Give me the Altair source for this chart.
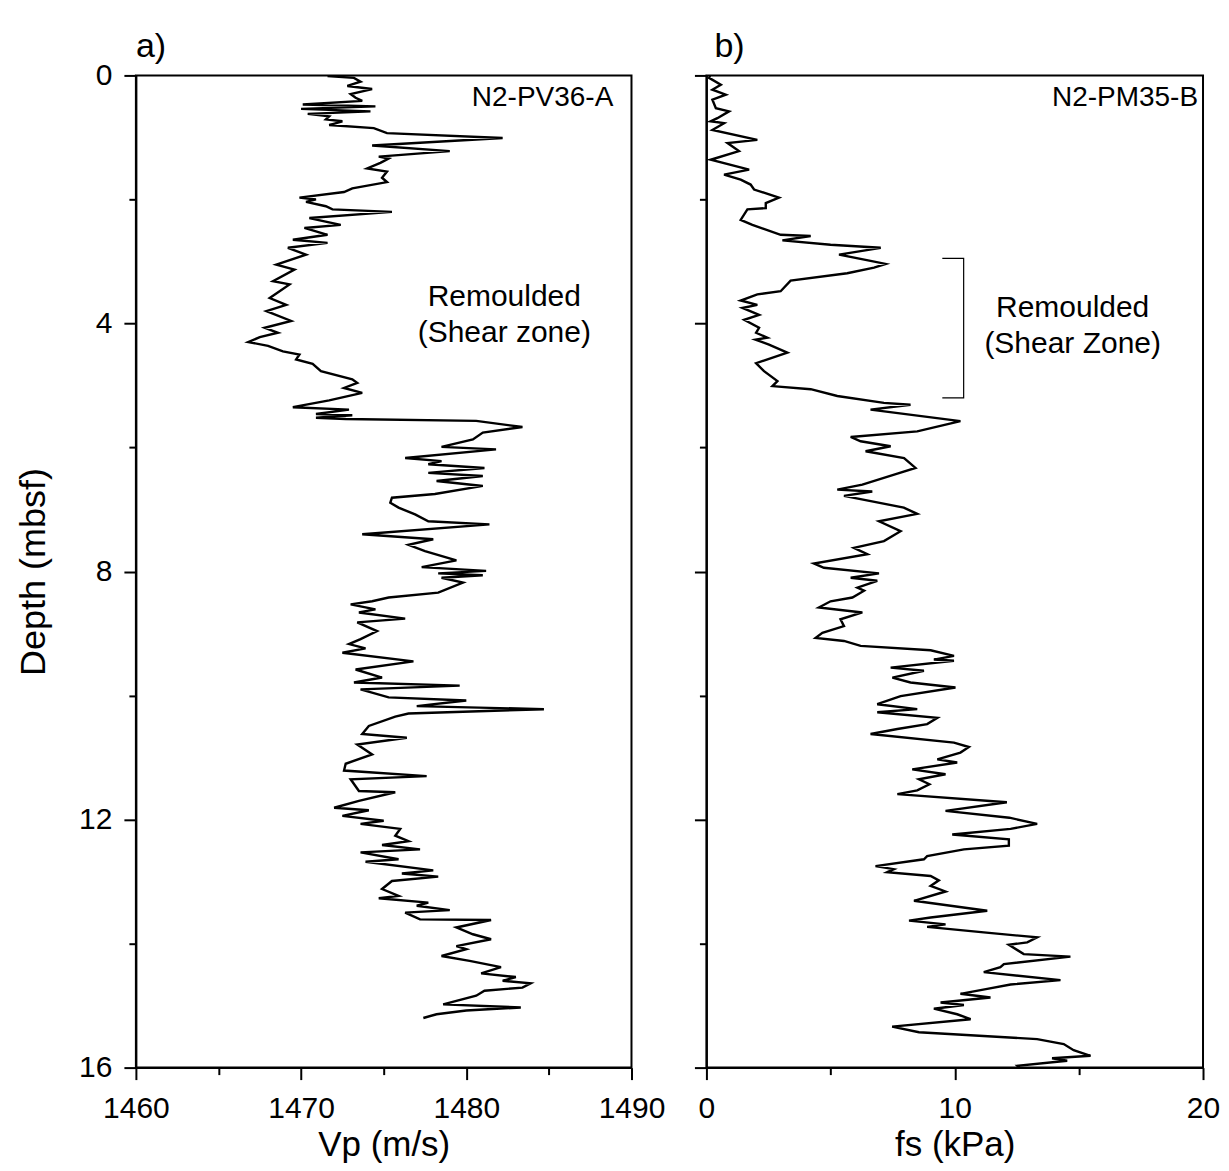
import altair as alt
import pandas as pd

FONT = "Liberation Sans"

# Panel a: Vp (m/s) vs depth (mbsf), core N2-PV36-A
depth_a = [0.01, 0.04, 0.10, 0.17, 0.22, 0.30, 0.36, 0.41, 0.47, 0.50, 0.54, 0.58, 0.62, 0.66, 0.71, 0.74,
           0.80, 0.85, 0.93, 1.01, 1.13, 1.22, 1.31, 1.34, 1.41, 1.50, 1.55, 1.65, 1.72, 1.82, 1.88, 1.97,
           2.00, 2.04, 2.11, 2.16, 2.20, 2.30, 2.41, 2.46, 2.57, 2.65, 2.70, 2.78, 2.89, 3.05, 3.13, 3.32,
           3.37, 3.59, 3.70, 3.80, 3.96, 4.07, 4.15, 4.22, 4.30, 4.36, 4.45, 4.50, 4.58, 4.65, 4.77, 4.90,
           4.96, 5.04, 5.12, 5.24, 5.35, 5.39, 5.46, 5.48, 5.52, 5.54, 5.57, 5.67, 5.76, 5.87, 5.99, 6.03,
           6.17, 6.22, 6.27, 6.33, 6.41, 6.46, 6.54, 6.62, 6.75, 6.81, 6.89, 6.97, 7.08, 7.19, 7.24, 7.40,
           7.48, 7.57, 7.67, 7.82, 7.93, 7.99, 8.03, 8.06, 8.10, 8.18, 8.34, 8.42, 8.48, 8.53, 8.61, 8.66,
           8.76, 8.82, 8.96, 9.09, 9.17, 9.24, 9.31, 9.45, 9.58, 9.71, 9.79, 9.84, 9.90, 10.03, 10.08, 10.17,
           10.22, 10.29, 10.34, 10.49, 10.62, 10.68, 10.79, 10.95, 11.10, 11.21, 11.30, 11.35, 11.54, 11.56,
           11.70, 11.81, 11.85, 11.94, 12.02, 12.07, 12.15, 12.26, 12.35, 12.41, 12.48, 12.53, 12.64, 12.68,
           12.82, 12.87, 12.92, 12.99, 13.12, 13.23, 13.27, 13.34, 13.39, 13.46, 13.50, 13.61, 13.62, 13.74,
           13.85, 13.93, 14.04, 14.09, 14.20, 14.28, 14.38, 14.48, 14.54, 14.60, 14.64, 14.71, 14.76, 14.84,
           14.98, 15.03, 15.08, 15.14, 15.20]
vp_a = [1471.6, 1473.2, 1473.6, 1472.8, 1474.3, 1473.0, 1473.3, 1473.7, 1470.1, 1474.5, 1470.0, 1474.2,
        1470.4, 1471.7, 1471.5, 1472.5, 1471.7, 1474.4, 1475.2, 1482.2, 1474.3, 1479.0, 1474.7, 1475.3,
        1474.8, 1474.0, 1475.2, 1474.9, 1475.2, 1473.1, 1472.6, 1469.9, 1470.9, 1470.3, 1471.5, 1471.9,
        1475.5, 1470.5, 1472.4, 1470.2, 1471.6, 1469.5, 1471.6, 1469.2, 1470.3, 1468.5, 1469.6, 1468.3,
        1469.3, 1468.1, 1469.1, 1467.9, 1469.4, 1467.8, 1468.6, 1467.5, 1466.8, 1468.0, 1468.9, 1469.9,
        1469.7, 1470.7, 1471.2, 1473.1, 1473.4, 1472.6, 1473.7, 1471.7, 1469.5, 1472.9, 1470.9, 1473.1,
        1470.9, 1472.7, 1480.6, 1483.4, 1481.0, 1480.4, 1478.5, 1481.8, 1476.3, 1478.5, 1477.7, 1481.1,
        1477.7, 1481.0, 1478.2, 1481.0, 1478.1, 1475.5, 1475.4, 1475.9, 1476.9, 1477.7, 1481.4, 1473.7,
        1478.0, 1476.5, 1477.5, 1479.4, 1477.3, 1481.2, 1478.3, 1481.0, 1478.5, 1479.8, 1478.3, 1475.3,
        1474.3, 1473.0, 1474.5, 1473.5, 1476.3, 1473.4, 1474.6, 1473.6, 1472.9, 1473.9, 1472.5, 1476.8,
        1473.3, 1474.9, 1473.2, 1479.6, 1473.6, 1475.3, 1480.0, 1477.0, 1484.7, 1476.5, 1475.7, 1474.1,
        1473.7, 1476.4, 1473.4, 1474.3, 1472.7, 1472.6, 1477.6, 1473.0, 1473.5, 1475.7, 1473.5, 1472.0,
        1474.1, 1472.5, 1475.0, 1473.6, 1476.0, 1475.7, 1476.5, 1474.9, 1477.2, 1473.6, 1475.9, 1473.9,
        1478.0, 1476.1, 1478.3, 1475.5, 1474.9, 1475.9, 1474.7, 1477.7, 1477.0, 1479.0, 1476.3, 1477.2,
        1481.5, 1479.4, 1480.4, 1481.5, 1479.4, 1480.0, 1478.5, 1480.2, 1482.1, 1480.9, 1483.0, 1482.2,
        1483.9, 1483.4, 1481.1, 1480.6, 1478.6, 1483.3, 1480.0, 1478.2, 1477.4]

# Panel b: fs (kPa) vs depth (mbsf), core N2-PM35-B
depth_b = [0.00, 0.04, 0.15, 0.23, 0.31, 0.39, 0.53, 0.58, 0.69, 0.74, 0.77, 0.88, 1.04, 1.09, 1.22, 1.36,
           1.52, 1.60, 1.68, 1.76, 1.84, 1.97, 2.06, 2.14, 2.16, 2.33, 2.41, 2.57, 2.59, 2.66, 2.73, 2.78,
           2.89, 2.99, 3.04, 3.10, 3.19, 3.31, 3.48, 3.53, 3.63, 3.70, 3.75, 3.86, 3.94, 4.07, 4.15, 4.23,
           4.26, 4.34, 4.47, 4.64, 4.77, 4.93, 5.01, 5.06, 5.17, 5.28, 5.31, 5.39, 5.575, 5.74, 5.83, 5.90,
           5.98, 6.06, 6.17, 6.33, 6.42, 6.60, 6.68, 6.71, 6.78, 6.97, 7.07, 7.19, 7.35, 7.51, 7.62, 7.72,
           7.87, 7.94, 8.03, 8.10, 8.15, 8.26, 8.31, 8.42, 8.48, 8.58, 8.66, 8.77, 8.88, 8.99, 9.07, 9.12,
           9.20, 9.27, 9.36, 9.42, 9.44, 9.55, 9.60, 9.71, 9.79, 9.87, 10.01, 10.14, 10.22, 10.27, 10.36,
           10.46, 10.54, 10.62, 10.76, 10.83, 10.92, 11.03, 11.08, 11.19, 11.27, 11.35, 11.43, 11.53, 11.59,
           11.72, 11.86, 11.97, 12.07, 12.15, 12.24, 12.32, 12.42, 12.48, 12.59, 12.64, 12.75, 12.80, 12.85,
           12.91, 12.98, 13.07, 13.16, 13.31, 13.47, 13.58, 13.63, 13.69, 13.73, 13.82, 13.90, 13.98, 14.02,
           14.17, 14.21, 14.33, 14.38, 14.46, 14.59, 14.66, 14.73, 14.81, 14.87, 14.95, 14.99, 15.05, 15.14,
           15.22, 15.34, 15.43, 15.54, 15.62, 15.72, 15.81, 15.85, 15.89, 15.97, 16.00]
fs_b = [0.15, 0.11, 0.58, 0.24, 0.78, 0.24, 0.38, 0.91, 0.44, 0.17, 0.71, 0.24, 2.05, 0.85, 1.31, 0.17,
        1.72, 0.71, 1.38, 1.78, 1.92, 2.92, 2.39, 2.39, 1.65, 1.38, 1.85, 2.99, 4.20, 3.06, 5.00, 7.02,
        5.34, 6.61, 7.22, 6.75, 5.67, 3.39, 2.99, 2.05, 1.38, 2.05, 1.45, 2.12, 1.52, 2.12, 2.00, 2.45,
        1.98, 2.52, 3.26, 2.00, 2.32, 2.86, 2.66, 4.20, 5.27, 7.15, 8.22, 6.61, 10.23, 8.49, 5.81, 6.21,
        7.42, 6.41, 7.96, 8.42, 7.69, 6.28, 5.27, 6.68, 5.54, 7.95, 8.49, 6.95, 7.82, 7.15, 5.94, 6.48,
        4.33, 4.73, 6.95, 5.81, 6.88, 6.08, 6.35, 5.88, 5.00, 4.53, 6.28, 5.40, 5.54, 4.67, 4.40, 5.54,
        6.21, 9.03, 9.97, 9.16, 9.97, 7.42, 8.76, 7.49, 8.22, 10.03, 7.82, 6.88, 8.49, 6.88, 9.30,
        8.89, 7.69, 6.61, 9.97, 10.57, 10.23, 9.30, 10.10, 8.29, 9.63, 8.56, 8.98, 8.49, 7.69,
        12.10, 9.63, 12.20, 13.32, 12.25, 9.90, 12.18, 12.18, 10.37, 8.89, 8.76, 6.81, 7.55, 7.28,
        9.03, 9.36, 9.03, 9.63, 8.36, 11.31, 9.03, 8.16, 9.63, 8.89, 11.17, 13.32, 12.92, 12.18,
        12.78, 14.66, 11.98, 11.84, 11.17, 14.26, 12.25, 11.31, 10.23, 11.44, 9.43, 10.37, 9.16, 10.10,
        10.64, 7.48, 8.56, 13.32, 14.39, 14.79, 15.47, 13.92, 14.53, 12.52, 12.60]

# Annotations
ann_a_text = ["N2-PV36-A", "Remoulded", "(Shear zone)"]
ann_a_x = [1488.9, 1482.3, 1482.3]
ann_a_y = [0.37, 3.58, 4.16]
ann_a_align = ["right", "center", "center"]

ann_b_text = ["N2-PM35-B", "Remoulded", "(Shear Zone)"]
ann_b_x = [19.8, 14.75, 14.75]
ann_b_y = [0.37, 3.75, 4.33]
ann_b_align = ["right", "center", "center"]

bracket_x = [9.5, 10.36, 10.36, 9.5]
bracket_y = [2.95, 2.95, 5.20, 5.20]

df_a = pd.DataFrame({"depth": depth_a, "vp": vp_a})
df_b = pd.DataFrame({"depth": depth_b, "fs": fs_b})
df_ta = pd.DataFrame({"t": ann_a_text, "x": ann_a_x, "y": ann_a_y, "al": ann_a_align})
df_tb = pd.DataFrame({"t": ann_b_text, "x": ann_b_x, "y": ann_b_y, "al": ann_b_align})
df_br = pd.DataFrame({"x": bracket_x, "y": bracket_y, "o": list(range(len(bracket_x)))})

W, H = 496, 993
LABEL_FS = 30
TITLE_FS = 35
LINE_W = 2.4

y_scale = alt.Scale(domain=[0, 16], reverse=True, nice=False, zero=False)


def tick_cond(test):
    return {"condition": {"test": test, "value": 12}, "value": 7}


def y_axis(show_labels):
    kw = dict(
        values=list(range(0, 17, 2)),
        format="d",
        tickSize=tick_cond("datum.value % 4 === 0"),
        tickWidth=2, tickColor="black",
        domainWidth=2, domainColor="black",
        grid=False,
        labelFont=FONT, labelFontSize=LABEL_FS, labelColor="black",
        labelPadding=12, labelOverlap=False, labelFlush=False,
        titleFont=FONT, titleFontSize=36, titleColor="black",
        titleFontWeight="normal", titlePadding=26,
    )
    if show_labels:
        kw["labelExpr"] = "datum.value % 4 === 0 ? datum.label : ''"
        kw["title"] = "Depth (mbsf)"
    else:
        kw["labels"] = False
        kw["title"] = None
    return alt.Axis(**kw)


def x_axis(vals, test, title):
    return alt.Axis(
        values=vals,
        format="d",
        tickSize=tick_cond(test),
        tickWidth=2, tickColor="black",
        domainWidth=2, domainColor="black",
        grid=False,
        labelExpr=f"({test}) ? datum.label : ''",
        labelFont=FONT, labelFontSize=LABEL_FS, labelColor="black",
        labelPadding=14, labelOverlap=False, labelFlush=False,
        title=title,
        titleFont=FONT, titleFontSize=TITLE_FS, titleColor="black",
        titleFontWeight="normal", titlePadding=4,
    )


def panel_title(txt, dx, offset):
    return alt.TitleParams(txt, anchor="start", frame="group", fontSize=34, font=FONT,
                           fontWeight="normal", color="black", offset=offset, dx=dx)


xa_scale = alt.Scale(domain=[1460, 1490], nice=False, zero=False)
xb_scale = alt.Scale(domain=[0, 20], nice=False, zero=False)

line_a = alt.Chart(df_a).mark_line(color="black", strokeWidth=LINE_W, clip=True).encode(
    x=alt.X("vp:Q", scale=xa_scale,
            axis=x_axis(list(range(1460, 1491, 5)), "datum.value % 10 === 0", "Vp (m/s)")),
    y=alt.Y("depth:Q", scale=y_scale, axis=y_axis(True)),
    order=alt.Order("depth:Q"),
)
text_a_r = alt.Chart(df_ta[df_ta.al == "right"]).mark_text(
    font=FONT, fontSize=28, color="black", baseline="middle", align="right").encode(
    x=alt.X("x:Q", scale=xa_scale), y=alt.Y("y:Q", scale=y_scale), text="t:N")
text_a_c = alt.Chart(df_ta[df_ta.al == "center"]).mark_text(
    font=FONT, fontSize=30, color="black", baseline="middle", align="center").encode(
    x=alt.X("x:Q", scale=xa_scale), y=alt.Y("y:Q", scale=y_scale), text="t:N")

panel_a = alt.layer(line_a, text_a_r, text_a_c).properties(
    width=W, height=H, title=panel_title("a)", 0, -4))

line_b = alt.Chart(df_b).mark_line(color="black", strokeWidth=LINE_W, clip=True).encode(
    x=alt.X("fs:Q", scale=xb_scale,
            axis=x_axis([0, 5, 10, 15, 20], "datum.value % 10 === 0", "fs (kPa)")),
    y=alt.Y("depth:Q", scale=y_scale, axis=y_axis(False)),
    order=alt.Order("depth:Q"),
)
text_b_r = alt.Chart(df_tb[df_tb.al == "right"]).mark_text(
    font=FONT, fontSize=28, color="black", baseline="middle", align="right").encode(
    x=alt.X("x:Q", scale=xb_scale), y=alt.Y("y:Q", scale=y_scale), text="t:N")
text_b_c = alt.Chart(df_tb[df_tb.al == "center"]).mark_text(
    font=FONT, fontSize=30, color="black", baseline="middle", align="center").encode(
    x=alt.X("x:Q", scale=xb_scale), y=alt.Y("y:Q", scale=y_scale), text="t:N")
bracket = alt.Chart(df_br).mark_line(color="black", strokeWidth=1.2).encode(
    x=alt.X("x:Q", scale=xb_scale), y=alt.Y("y:Q", scale=y_scale), order="o:Q")

panel_b = alt.layer(line_b, bracket, text_b_r, text_b_c).properties(
    width=W + 1, height=H, title=panel_title("b)", 8, 10))

chart = alt.hconcat(panel_a, panel_b, spacing=75, bounds="flush").properties(
    padding={"left": 6, "top": 21, "right": 0, "bottom": 0},
    background="white",
).configure_view(stroke="black", strokeWidth=2)

chart.save("out.html", embed_options={"renderer": "svg", "actions": False})
